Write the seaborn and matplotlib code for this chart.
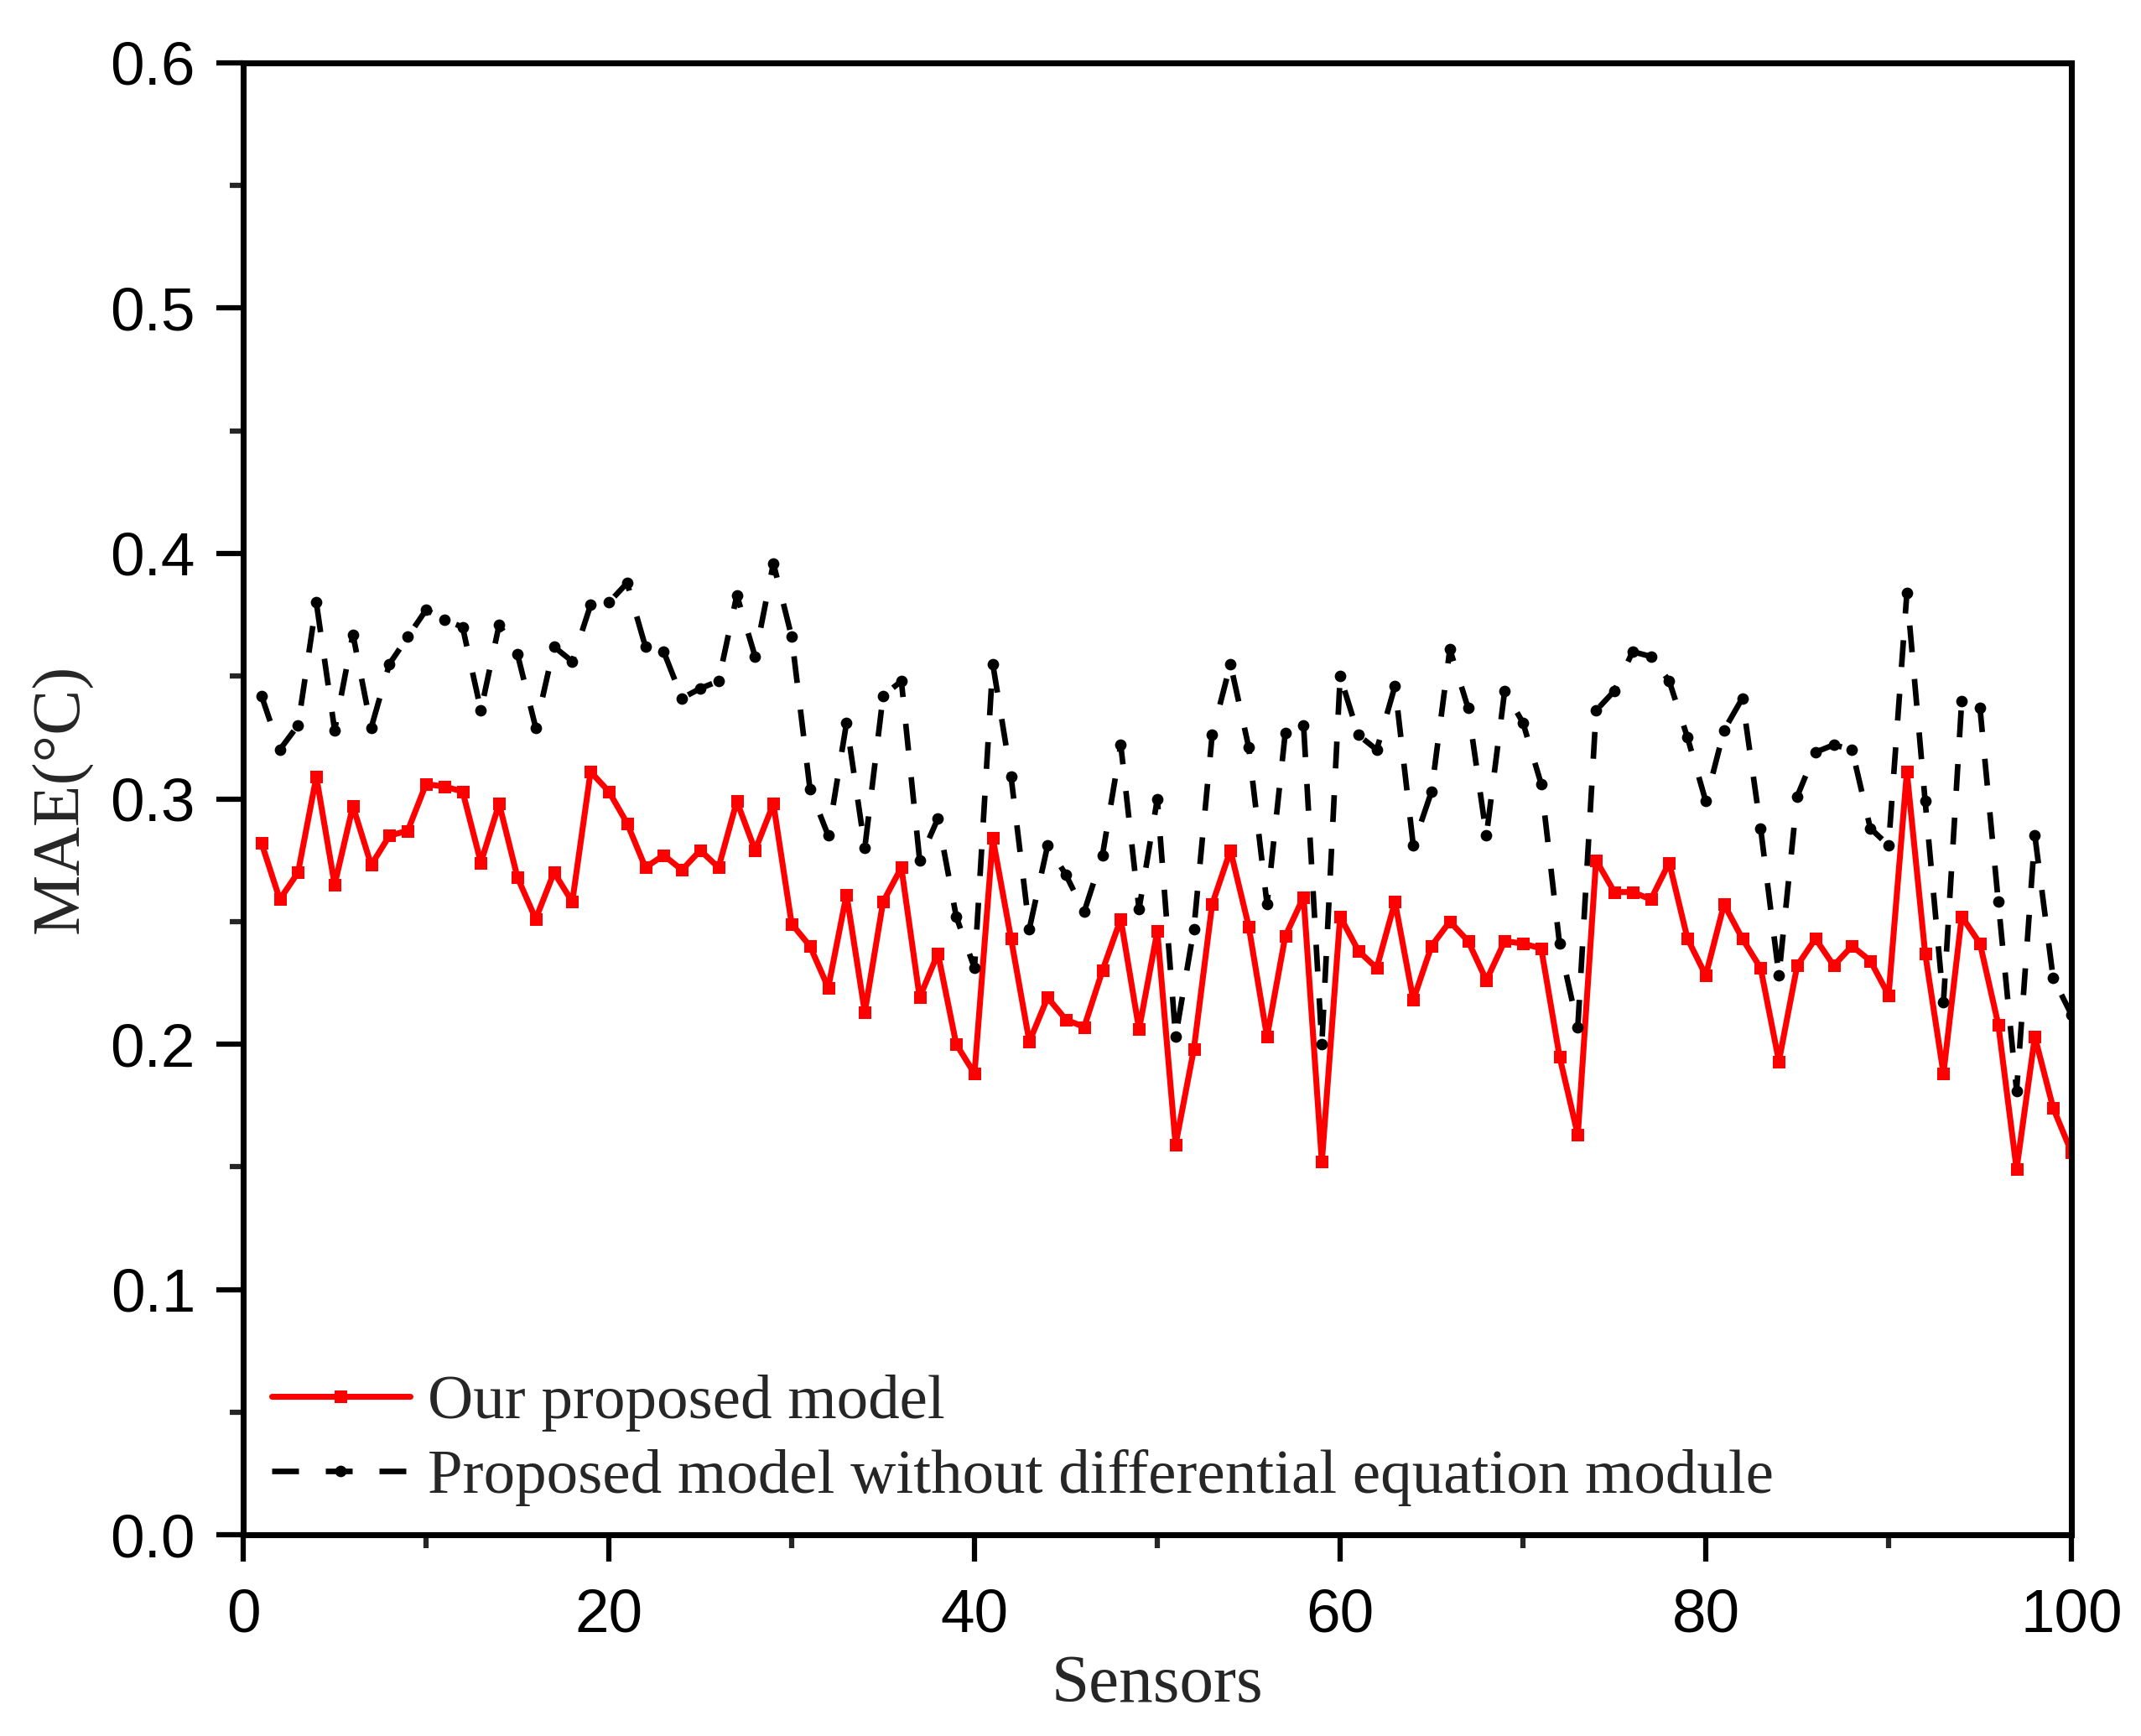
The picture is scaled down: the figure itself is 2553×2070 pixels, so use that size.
import numpy as np
import pandas as pd
import matplotlib
matplotlib.use("Agg")
import matplotlib.pyplot as plt
from matplotlib.ticker import MultipleLocator
import seaborn as sns

# MAE per sensor
sensors = list(range(1, 101))

mae_proposed = [
    0.282, 0.259, 0.270, 0.309, 0.265, 0.297, 0.273, 0.285, 0.287, 0.306,
    0.305, 0.303, 0.274, 0.298, 0.268, 0.251, 0.270, 0.258, 0.311, 0.303,
    0.290, 0.272, 0.277, 0.271, 0.279, 0.272, 0.299, 0.279, 0.298, 0.249,
    0.240, 0.223, 0.261, 0.213, 0.258, 0.272, 0.219, 0.237, 0.200, 0.188,
    0.284, 0.243, 0.201, 0.219, 0.210, 0.207, 0.230, 0.251, 0.206, 0.246,
    0.159, 0.198, 0.257, 0.279, 0.248, 0.203, 0.244, 0.260, 0.152, 0.252,
    0.238, 0.231, 0.258, 0.218, 0.240, 0.250, 0.242, 0.226, 0.242, 0.241,
    0.239, 0.195, 0.163, 0.275, 0.262, 0.262, 0.259, 0.274, 0.243, 0.228,
    0.257, 0.243, 0.231, 0.193, 0.232, 0.243, 0.232, 0.240, 0.234, 0.220,
    0.311, 0.237, 0.188, 0.252, 0.241, 0.208, 0.149, 0.203, 0.174, 0.156,
]

mae_no_de = [
    0.342, 0.320, 0.330, 0.380, 0.328, 0.367, 0.329, 0.355, 0.366, 0.377,
    0.373, 0.370, 0.336, 0.371, 0.359, 0.329, 0.362, 0.356, 0.379, 0.380,
    0.388, 0.362, 0.360, 0.341, 0.345, 0.348, 0.383, 0.358, 0.396, 0.366,
    0.304, 0.285, 0.331, 0.280, 0.342, 0.348, 0.275, 0.292, 0.252, 0.231,
    0.355, 0.309, 0.247, 0.281, 0.269, 0.254, 0.277, 0.322, 0.255, 0.300,
    0.203, 0.247, 0.326, 0.355, 0.321, 0.257, 0.327, 0.330, 0.200, 0.350,
    0.326, 0.320, 0.346, 0.281, 0.303, 0.361, 0.337, 0.285, 0.344, 0.331,
    0.306, 0.241, 0.207, 0.336, 0.344, 0.360, 0.358, 0.348, 0.325, 0.299,
    0.328, 0.341, 0.288, 0.228, 0.301, 0.319, 0.322, 0.320, 0.288, 0.281,
    0.384, 0.299, 0.217, 0.340, 0.337, 0.258, 0.181, 0.285, 0.227, 0.212,
]

labels = ["Our proposed model",
          "Proposed model without differential equation module"]

sns.set_style("ticks")
plt.rcParams['font.family'] = ['Liberation Sans', 'DejaVu Sans']
plt.rcParams['axes.linewidth'] = 1.7
SERIF = ['Liberation Serif', 'DejaVu Serif']

df = pd.DataFrame({'sensor': sensors,
                   'proposed': mae_proposed,
                   'no_de': mae_no_de})

fig = plt.figure(figsize=(2553 / 300, 2070 / 300), dpi=300)
ax = fig.add_axes([0.1136, 0.1159, 0.8539, 0.8479])

sns.lineplot(data=df, x='sensor', y='proposed', ax=ax,
             color='#ff0000', linewidth=1.7, marker='s', markersize=3.6,
             markeredgewidth=0, label=labels[0])
sns.lineplot(data=df, x='sensor', y='no_de', ax=ax,
             color='black', linewidth=1.6, linestyle=(0, (4.8, 4.8)),
             marker='o', markersize=3.3, markeredgewidth=0,
             label=labels[1])

ax.set_xlim(0, 100)
ax.set_ylim(0, 0.6)
ax.xaxis.set_major_locator(MultipleLocator(20))
ax.xaxis.set_minor_locator(MultipleLocator(10))
ax.yaxis.set_major_locator(MultipleLocator(0.1))
ax.yaxis.set_minor_locator(MultipleLocator(0.05))
ax.yaxis.set_major_formatter(plt.FormatStrFormatter('%.1f'))

ax.tick_params(which='major', direction='out', length=7.7, width=1.5,
               labelsize=17.5, colors='black')
ax.tick_params(which='minor', direction='out', length=3.8, width=1.5)
ax.tick_params(axis='x', which='major', pad=7.5)
ax.tick_params(axis='y', which='major', pad=6)

for s in ax.spines.values():
    s.set_visible(True)
    s.set_color('black')
    s.set_linewidth(1.7)

ax.set_xlabel("Sensors", family=SERIF, fontsize=19.5, labelpad=3)
ax.set_ylabel("MAE(°C)", family=SERIF, fontsize=19.5, labelpad=5)

leg = ax.legend(loc='lower left', frameon=False, numpoints=1,
                handlelength=2.2, handletextpad=0.28, labelspacing=0.28,
                borderaxespad=0.05, prop={'family': SERIF, 'size': 18})

fig.savefig("out.png", dpi=300)
